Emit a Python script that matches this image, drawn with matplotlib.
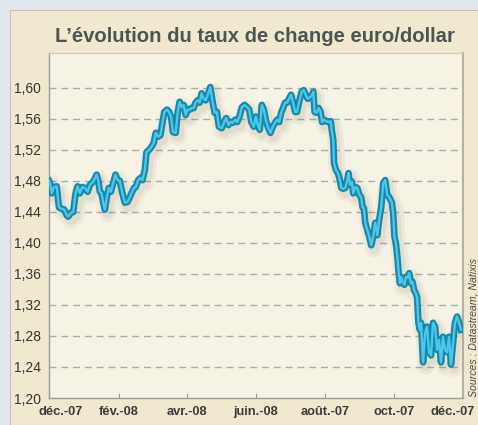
import matplotlib
matplotlib.use("Agg")
import matplotlib.pyplot as plt
import matplotlib.patheffects as pe
from matplotlib.patches import Rectangle
from matplotlib.transforms import ScaledTranslation

# days since 1 Dec 2007 and EUR/USD rate
days = [0, 0.9, 2.4, 4.4, 6.8, 8.8, 11.2, 13.5, 15.6, 17.0, 19.4, 21.4, 23.5, 25.3, 27.3, 29.4,
        31.7, 34.1, 36.2, 39.1, 42.1, 43.5, 45.0, 46.5, 47.9, 49.4, 51.1, 52.9, 54.7, 56.7,
        58.8, 60.6, 62.6, 64.6, 67.0, 69.4, 71.4, 73.5, 75.2,
        76.7, 78.8, 80.9, 82.6, 84.7, 86.2, 88.5, 90.6, 92.6, 94.4, 96.4, 98.5, 100.3, 102.0,
        104.3, 106.1, 107.9, 109.6, 112.0, 113.8, 115.5, 117.3, 119.1, 120.8, 122.6, 124.3,
        126.1, 127.9, 129.6, 131.4, 133.2, 134.9, 136.7, 138.5, 140.8, 142.6, 144.4, 146.4,
        148.4, 150.2,
        152.8, 154.6, 156.7, 158.7, 160.5, 162.5, 164.6, 166.4, 168.4, 170.5, 172.9, 175.2,
        177.0, 178.8, 181.1, 182.8, 184.6, 186.3, 188.1, 189.9, 191.6, 193.4, 195.8, 197.8,
        199.9, 201.7, 203.5, 205.2, 207.0, 208.7, 210.5, 212.3, 214.0, 215.8, 217.6, 219.3,
        221.1, 223.4, 225.2,
        226.6, 228.7, 230.8, 232.6, 233.7, 234.8, 236.6, 238.4, 240.1, 241.4, 243.1, 244.9,
        247.2, 249.0, 250.2, 251.3, 252.0, 253.7, 255.5, 257.2, 258.4, 260.2, 261.9, 263.7,
        264.8, 266.1, 267.8, 269.0, 270.7, 272.5, 274.3, 276.0, 277.2, 278.4, 279.6, 281.3,
        283.1, 284.9, 286.6, 288.4, 290.2, 291.9, 293.7, 295.5,
        297.2, 299.0, 300.8, 303.1, 304.2, 305.4, 306.6, 308.0, 308.9, 310.2, 311.3, 312.5,
        314.2, 315.5, 317.2, 318.4, 319.9, 321.3, 322.8, 324.3, 325.4, 326.6, 327.8, 328.9,
        330.7, 332.5, 334.2, 336.0, 337.8, 339.5, 341.3, 343.1, 344.8, 346.6, 348.3, 350.1,
        351.9, 353.6, 355.4, 357.2, 358.9, 360.7, 362.5, 364.2]

rate = [1.480, 1.477, 1.464, 1.472, 1.473, 1.446, 1.444, 1.443, 1.436, 1.434, 1.439, 1.440,
        1.464, 1.473, 1.464, 1.472, 1.471, 1.466, 1.475, 1.479, 1.488, 1.481, 1.466, 1.464,
        1.452, 1.443, 1.459, 1.471, 1.466, 1.477, 1.488, 1.481, 1.480, 1.466, 1.452, 1.453,
        1.459, 1.466, 1.471,
        1.472, 1.481, 1.484, 1.481, 1.494, 1.517, 1.520, 1.524, 1.529, 1.542, 1.537, 1.539,
        1.555, 1.569, 1.572, 1.569, 1.563, 1.543, 1.542, 1.569, 1.582, 1.575, 1.578, 1.565,
        1.572, 1.572, 1.574, 1.574, 1.581, 1.584, 1.581, 1.593, 1.586, 1.584, 1.593, 1.601,
        1.584, 1.568, 1.569, 1.550,
        1.548, 1.555, 1.561, 1.552, 1.556, 1.555, 1.559, 1.556, 1.563, 1.575, 1.578, 1.575,
        1.572, 1.556, 1.550, 1.563, 1.552, 1.546, 1.578, 1.572, 1.559, 1.550, 1.542, 1.550,
        1.555, 1.559, 1.556, 1.568, 1.574, 1.581, 1.581, 1.586, 1.591, 1.581, 1.569, 1.569,
        1.582, 1.595, 1.597,
        1.592, 1.586, 1.588, 1.591, 1.595, 1.569, 1.568, 1.574, 1.569, 1.556, 1.559, 1.557,
        1.556, 1.557, 1.543, 1.533, 1.503, 1.494, 1.490, 1.481, 1.471, 1.470, 1.471, 1.481,
        1.490, 1.475, 1.479, 1.464, 1.472, 1.471, 1.462, 1.459, 1.446, 1.445, 1.426, 1.417,
        1.408, 1.397, 1.408, 1.426, 1.410, 1.430, 1.446, 1.477,
        1.481, 1.462, 1.459, 1.452, 1.439, 1.408, 1.400, 1.382, 1.365, 1.348, 1.356, 1.350,
        1.346, 1.356, 1.355, 1.361, 1.348, 1.350, 1.339, 1.335, 1.330, 1.297, 1.288, 1.297,
        1.246, 1.284, 1.292, 1.259, 1.255, 1.297, 1.292, 1.262, 1.275, 1.246, 1.279, 1.262,
        1.259, 1.279, 1.243, 1.271, 1.297, 1.305, 1.297, 1.288]

tick_days = [0, 62, 122, 183, 244, 305, 366]
tick_labels = ["déc.-07", "fév.-08", "avr.-08", "juin.-08", "août.-07", "oct.-07", "déc.-07"]
y_ticks = [1.20, 1.24, 1.28, 1.32, 1.36, 1.40, 1.44, 1.48, 1.52, 1.56, 1.60]

plt.rcParams["font.family"] = ["Liberation Sans", "DejaVu Sans"]

fig = plt.figure(figsize=(4.78, 4.25), dpi=100, facecolor="#e2e7ef")
fig.patches.append(Rectangle((10 / 478, 0), 1, 415 / 425, transform=fig.transFigure,
                             facecolor="#f1e9cf", edgecolor="#c9bfa2", lw=0.8, zorder=-5))

ax = fig.add_axes([49 / 478, 27 / 425, 414 / 478, 345 / 425])
ax.set_zorder(2)
ax.set_facecolor("#f6f2e4")

ax.plot(days, rate, color="#4cc6ea", lw=1.7, solid_joinstyle="round", zorder=3,
        path_effects=[
            pe.SimpleLineShadow(offset=(2, -3), shadow_color="#6b6040", alpha=0.06, linewidth=12),
            pe.SimpleLineShadow(offset=(2, -3), shadow_color="#6b6040", alpha=0.09, linewidth=7),
            pe.Stroke(linewidth=4.8, foreground="#1788a8"),
            pe.Normal()])

ax.set_xlim(0, 366)
ax.set_ylim(1.20, 1.645)
ax.set_yticks(y_ticks)
ax.set_yticklabels([f"{v:.2f}".replace(".", ",") for v in y_ticks])
ax.set_xticks(tick_days)
ax.set_xticklabels(tick_labels, fontweight="bold", fontsize=9.3, color="#3a3a3a")

for y in y_ticks[1:]:
    ax.axhline(y, color="#ababab", lw=1, dashes=(5, 3.5), zorder=1)

ax.tick_params(axis="y", length=0, pad=6, labelsize=10, labelcolor="#333333")
ax.tick_params(axis="x", direction="in", length=3.5, color="#9a9a9a", pad=6)

labels = ax.get_xticklabels()
labels[0].set_transform(labels[0].get_transform() + ScaledTranslation(0.12, 0, fig.dpi_scale_trans))
labels[-1].set_transform(labels[-1].get_transform() + ScaledTranslation(-0.10, 0, fig.dpi_scale_trans))

for side in ["left", "bottom"]:
    ax.spines[side].set_color("#9a9a9a")
    ax.spines[side].set_linewidth(1)
ax.spines["top"].set_color("#cfc9b6")
ax.spines["right"].set_color("#b8b09a")
ax.spines["right"].set_linewidth(1.5)

fig.text(0.533, (425 - 42) / 425, "L’évolution du taux de change euro/dollar",
         ha="center", va="baseline", fontsize=14.6, fontweight="bold", color="#4b5552")
fig.text(473 / 478, 28 / 425, "Sources : Datastream, Natixis", rotation=90,
         ha="center", va="bottom", fontsize=7.6, style="italic", color="#4a4a4a")

fig.savefig("out.png", dpi=100, facecolor=fig.get_facecolor())
